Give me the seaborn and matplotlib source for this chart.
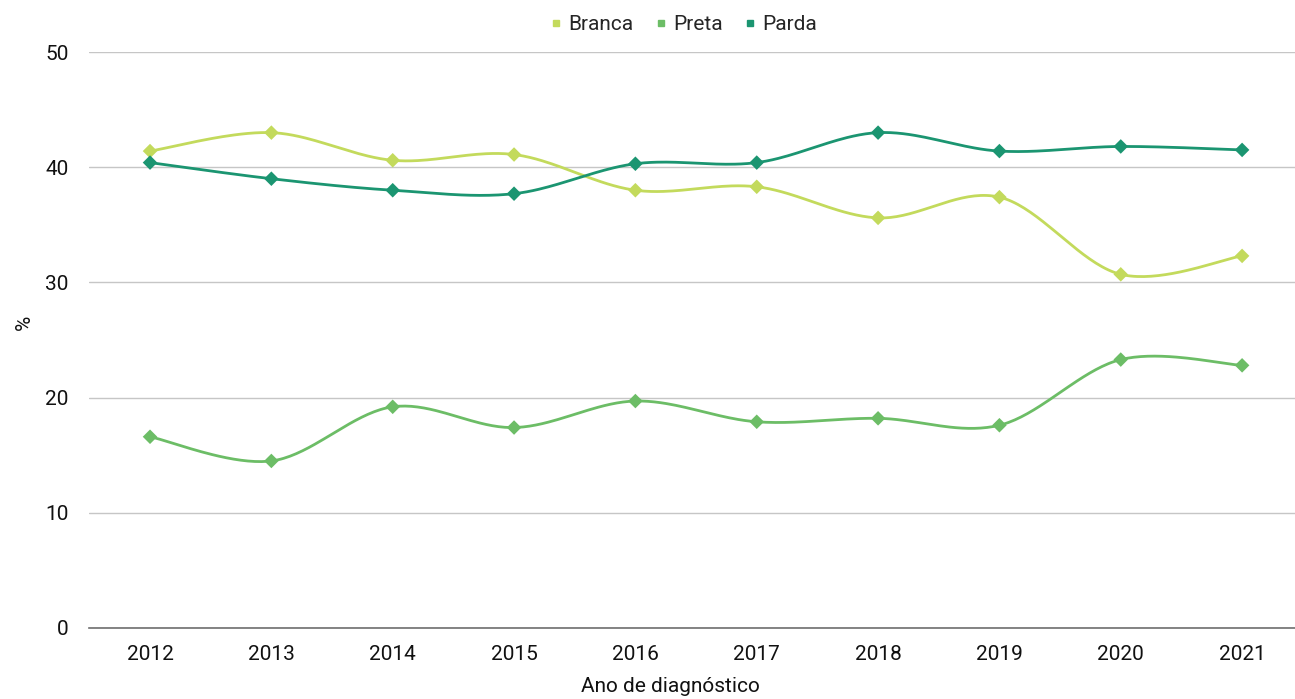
import numpy as np
import pandas as pd
import matplotlib
matplotlib.use("Agg")
import matplotlib.pyplot as plt
from matplotlib.lines import Line2D
import seaborn as sns

anos = [2012, 2013, 2014, 2015, 2016, 2017, 2018, 2019, 2020, 2021]
branca = [41.4, 43.0, 40.6, 41.1, 38.0, 38.3, 35.6, 37.4, 30.7, 32.3]
preta = [16.6, 14.5, 19.2, 17.4, 19.7, 17.9, 18.2, 17.6, 23.3, 22.8]
parda = [40.4, 39.0, 38.0, 37.7, 40.3, 40.4, 43.0, 41.4, 41.8, 41.5]

series = ["Branca", "Preta", "Parda"]
cores = {"Branca": "#c3da5c", "Preta": "#6cbd66", "Parda": "#1b9571"}

df = pd.DataFrame({"Ano": anos, "Branca": branca, "Preta": preta, "Parda": parda})
df = df.melt(id_vars="Ano", var_name="Cor", value_name="Pct")
df["pos"] = df["Ano"] - anos[0]

sns.set_style("white")
plt.rcParams["font.family"] = ["Roboto", "DejaVu Sans"]
fs = 15


def suave(x, y, n=40):
    # curva tipo Catmull-Rom (linha suavizada estilo Excel)
    x = np.asarray(x, float)
    y = np.asarray(y, float)
    px = np.concatenate([[x[0]], x, [x[-1]]])
    py = np.concatenate([[y[0]], y, [y[-1]]])
    xs, ys = [], []
    t = np.linspace(0, 1, n)
    for i in range(1, len(px) - 2):
        p0, p1, p2, p3 = [np.array([px[j], py[j]]) for j in (i - 1, i, i + 1, i + 2)]
        c1 = p1 + (p2 - p0) / 6
        c2 = p2 - (p3 - p1) / 6
        b = ((1 - t) ** 3)[:, None] * p1 + (3 * (1 - t) ** 2 * t)[:, None] * c1 \
            + (3 * (1 - t) * t ** 2)[:, None] * c2 + (t ** 3)[:, None] * p2
        xs.append(b[:, 0])
        ys.append(b[:, 1])
    return np.concatenate(xs), np.concatenate(ys)


fig = plt.figure(figsize=(12.95, 6.99), dpi=100)
ax = fig.add_axes([0.069, 0.1016, 0.937, 0.824])

for s in series:
    sub = df[df["Cor"] == s]
    xs, ys = suave(sub["pos"], sub["Pct"])
    ax.plot(xs, ys, color=cores[s], lw=2.0, zorder=2)

sns.scatterplot(data=df, x="pos", y="Pct", hue="Cor", palette=cores, marker="D",
                s=55, edgecolor="none", legend=False, ax=ax, zorder=3)

ax.set_xlim(-0.5, len(anos) - 0.5)
ax.set_ylim(0, 50)
ax.set_xticks(range(len(anos)))
ax.set_xticklabels([str(a) for a in anos])
ax.set_yticks([0, 10, 20, 30, 40, 50])
ax.grid(axis="y", color="#c6c6c6", lw=1)
ax.set_axisbelow(True)
for sp in ["top", "right", "left"]:
    ax.spines[sp].set_visible(False)
ax.spines["bottom"].set_color("#6e6e6e")
ax.spines["bottom"].set_linewidth(1.2)
ax.tick_params(axis="both", length=0, labelsize=fs, colors="#111111", pad=12)
ax.tick_params(axis="y", pad=15)

ax.set_xlabel("Ano de diagnóstico", fontsize=fs, color="#111111", labelpad=14)
ax.xaxis.set_label_coords(0.479, -0.085)
ax.set_ylabel("%", fontsize=fs, color="#111111")
ax.yaxis.set_label_coords(-0.046, 0.53)

handles = [Line2D([], [], ls="none", marker="s", markersize=5, color=cores[s]) for s in series]
fig.legend(handles, series, loc="upper center", bbox_to_anchor=(0.526, 1.005), ncol=3,
           frameon=False, fontsize=fs, handletextpad=0.1, columnspacing=0.8,
           handlelength=1.0)

fig.savefig("out.png", dpi=100)
